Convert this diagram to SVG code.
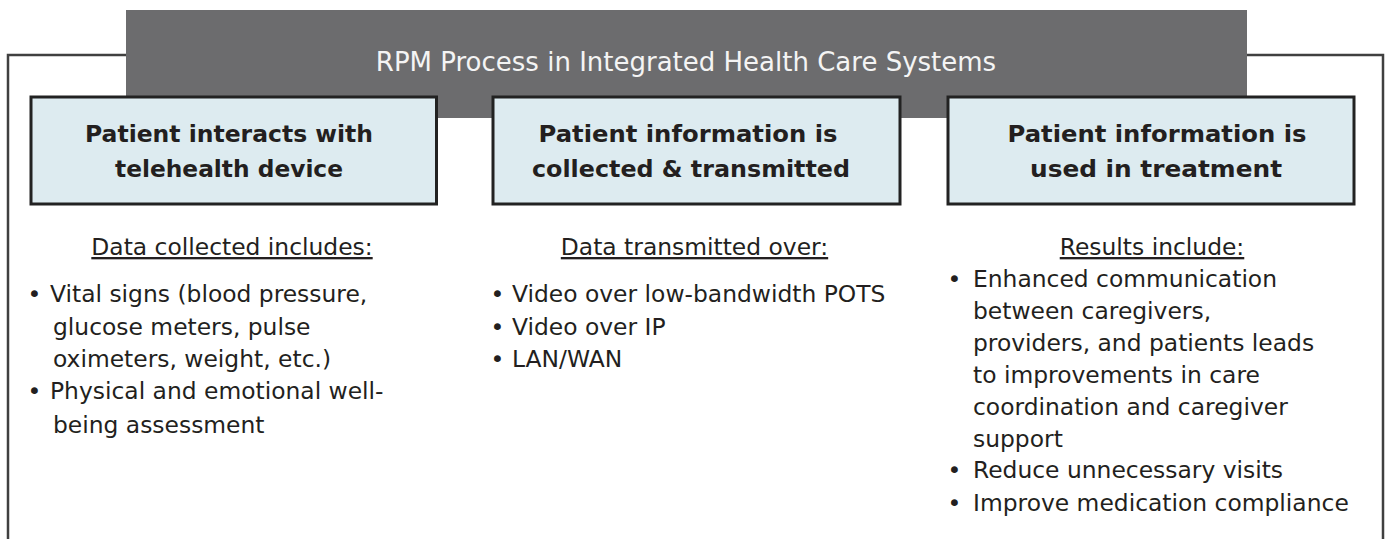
<svg xmlns="http://www.w3.org/2000/svg" width="1387" height="539" viewBox="0 0 1387 539">
<style>
.frame{fill:none;stroke:#404040;stroke-width:2.5}
.hdr{fill:#6c6c6e}
.title{font-family:"DejaVu Sans",sans-serif;font-size:26px;fill:#f4f4f4;text-anchor:middle}
.box{fill:#ddebf0;stroke:#222;stroke-width:3}
.bt{font-family:"DejaVu Sans",sans-serif;font-weight:bold;font-size:23px;fill:#231f20;text-anchor:middle}
.sub{font-family:"DejaVu Sans",sans-serif;font-size:23.4px;fill:#231f20;text-anchor:middle;text-decoration:underline}
.tx{font-family:"DejaVu Sans",sans-serif;font-size:23.4px;fill:#231f20}
.bu{font-family:"DejaVu Sans",sans-serif;font-size:23.4px;fill:#231f20;text-anchor:middle}
</style>
<g id="frame">
<path class="frame" d="M8,539 V55 H130 M1240,55 H1383 V539"/>
</g>
<g id="header">
<rect class="hdr" x="126" y="10" width="1121" height="108"/>
<text class="title" x="686" y="71">RPM Process in Integrated Health Care Systems</text>
</g>
<g id="node1">
<rect class="box" x="31" y="97" width="405.5" height="107"/>
<text class="bt" x="229" y="142" textLength="288" lengthAdjust="spacingAndGlyphs">Patient interacts with</text>
<text class="bt" x="229" y="177" textLength="228" lengthAdjust="spacingAndGlyphs">telehealth device</text>
</g>
<g id="node2">
<rect class="box" x="493" y="97" width="407" height="107"/>
<text class="bt" x="688" y="142" textLength="299" lengthAdjust="spacingAndGlyphs">Patient information is</text>
<text class="bt" x="691" y="177" textLength="318" lengthAdjust="spacingAndGlyphs">collected &amp; transmitted</text>
</g>
<g id="node3">
<rect class="box" x="948" y="97" width="406" height="107"/>
<text class="bt" x="1157" y="142" textLength="299" lengthAdjust="spacingAndGlyphs">Patient information is</text>
<text class="bt" x="1156" y="177" textLength="252" lengthAdjust="spacingAndGlyphs">used in treatment</text>
</g>
<g id="list1">
<text class="sub" x="232" y="255">Data collected includes:</text>
<text class="bu" x="34.5" y="302">•</text>
<text class="tx" x="50" y="302">Vital signs (blood pressure,</text>
<text class="tx" x="53" y="335">glucose meters, pulse</text>
<text class="tx" x="53" y="367">oximeters, weight, etc.)</text>
<text class="bu" x="34.5" y="399">•</text>
<text class="tx" x="50" y="399">Physical and emotional well-</text>
<text class="tx" x="53" y="433">being assessment</text>
</g>
<g id="list2">
<text class="sub" x="694.5" y="255">Data transmitted over:</text>
<text class="bu" x="497.5" y="302">•</text>
<text class="tx" x="512" y="302">Video over low-bandwidth POTS</text>
<text class="bu" x="497.5" y="335">•</text>
<text class="tx" x="512" y="335">Video over IP</text>
<text class="bu" x="497.5" y="367">•</text>
<text class="tx" x="512" y="367">LAN/WAN</text>
</g>
<g id="list3">
<text class="sub" x="1152" y="255">Results include:</text>
<text class="bu" x="954.5" y="287">•</text>
<text class="tx" x="973" y="287">Enhanced communication</text>
<text class="tx" x="973" y="319">between caregivers,</text>
<text class="tx" x="973" y="351">providers, and patients leads</text>
<text class="tx" x="973" y="383">to improvements in care</text>
<text class="tx" x="973" y="415">coordination and caregiver</text>
<text class="tx" x="973" y="447">support</text>
<text class="bu" x="954.5" y="478">•</text>
<text class="tx" x="973" y="478">Reduce unnecessary visits</text>
<text class="bu" x="954.5" y="511">•</text>
<text class="tx" x="973" y="511">Improve medication compliance</text>
</g>
</svg>
